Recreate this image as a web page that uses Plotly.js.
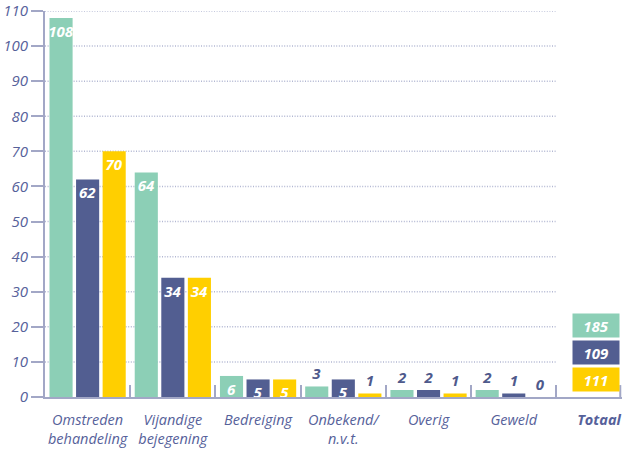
<!DOCTYPE html>
<html><head><meta charset="utf-8">
<script src="https://cdn.plot.ly/plotly-3.0.1.min.js"></script>
<style>html,body{margin:0;padding:0;background:#fff;overflow:hidden}</style>
</head><body><div id="chart" style="width:622px;height:450px"></div>
<script>
const categories = ['Omstreden<br>behandeling','Vijandige<br>bejegening','Bedreiging','Onbekend/<br>n.v.t.','Overig','Geweld'];
const totalLabel = '<b>Totaal</b>';
const seriesA = [108,64,6,3,2,2];
const seriesB = [62,34,5,5,2,1];
const seriesC = [70,34,5,1,1,0];
const totals = [185,109,111];
const yTicks = [0,10,20,30,40,50,60,70,80,90,100,110];

const colors = ['#8ccfb6','#525e91','#ffcf00'];
const textNavy = '#4f5a8c';
const axisCol = '#a2a7c6';
const fam = '"Open Sans", "Noto Sans", sans-serif';

function mk(vals, color){
  return {
    type:'bar', x:categories, y:vals, marker:{color:color, line:{width:0}},
    text: vals.map(String),
    textposition: vals.map(v => v >= 5 ? 'inside' : 'outside'),
    insidetextanchor:'end', constraintext:'none', textangle:0, cliponaxis:false,
    insidetextfont:{family:fam, size:15, color:'#ffffff', weight:'bold', style:'italic'},
    outsidetextfont:{family:fam, size:15, color:textNavy, weight:'bold', style:'italic'},
    hoverinfo:'skip', showlegend:false
  };
}
const data = [mk(seriesA,colors[0]), mk(seriesB,colors[1]), mk(seriesC,colors[2])];

const shapes = yTicks.filter(v=>v>0).map(v=>({
  type:'line', xref:'x', yref:'y', x0:-0.5, x1:5.5, y0:v, y1:v, layer:'below',
  line:{color:'#b2b7d2', width:1.5, dash:'1px,1.6px'}
}));
shapes.push({type:'line', xref:'paper', yref:'y', x0:0.997, x1:0.997, y0:0, y1:3.4, line:{color:axisCol, width:2}});

const totY = [20.3, 12.7, 5.1];
const annotations = totals.map((t,i)=>({
  xref:'x', yref:'y', x:totalLabel, y:totY[i], text:String(t), showarrow:false,
  bgcolor:colors[i], width:46, height:23, borderpad:0, xshift:-3,
  font:{family:fam, size:15, color:'#ffffff', weight:'bold', style:'italic'}
}));

const layout = {
  width:622, height:450, margin:{l:45, r:0, t:11, b:53},
  paper_bgcolor:'#ffffff', plot_bgcolor:'#ffffff',
  barmode:'group', bargap:0.065, bargroupgap:0.13,
  xaxis:{type:'category', categoryorder:'array', categoryarray:[...categories, totalLabel],
    range:[-0.5, 6.27], tickson:'boundaries', ticks:'inside', ticklen:12, tickwidth:2, tickcolor:axisCol,
    tickangle:0, ticklabelstandoff:9,
    showline:true, linecolor:axisCol, linewidth:2, showgrid:false, zeroline:false,
    tickfont:{family:fam, size:14.5, color:'#56619a', style:'italic'}, fixedrange:true},
  yaxis:{range:[0,110], tickmode:'array', tickvals:yTicks, ticktext:yTicks.map(String),
    ticks:'outside', ticklen:12, tickwidth:2, tickcolor:axisCol,
    showline:true, linecolor:axisCol, linewidth:2, showgrid:false, zeroline:false,
    tickfont:{family:fam, size:15, color:'#56619a', style:'italic'}, fixedrange:true},
  shapes:shapes, annotations:annotations
};
Plotly.newPlot('chart', data, layout, {displayModeBar:false, staticPlot:true});
</script></body></html>
